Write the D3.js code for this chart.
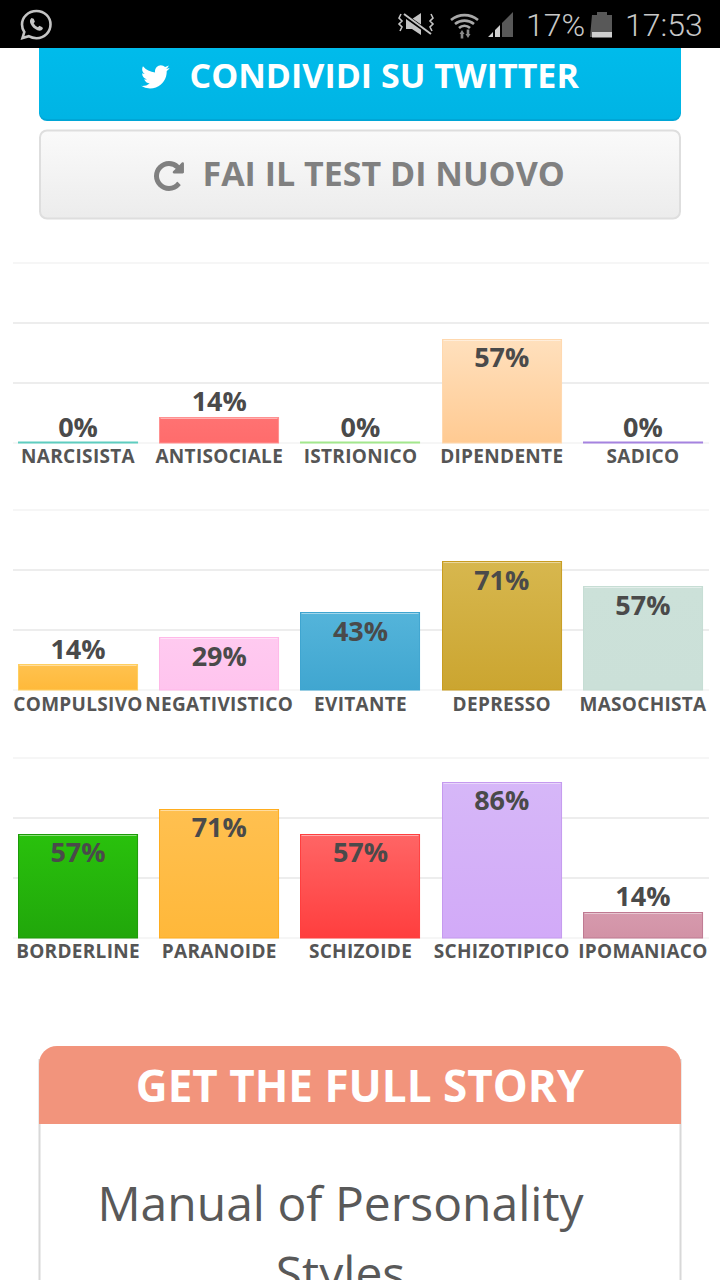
<!DOCTYPE html>
<html><head><meta charset="utf-8">
<script src="https://cdnjs.cloudflare.com/ajax/libs/d3/7.8.5/d3.min.js"></script>
<style>html,body{margin:0;padding:0;background:#fff;overflow:hidden}svg{display:block;font-family:"Open Sans",sans-serif}</style>
</head><body><svg id="c" width="720" height="1280" viewBox="0 0 720 1280"></svg>
<script>
const categoriesA = ["NARCISISTA","ANTISOCIALE","ISTRIONICO","DIPENDENTE","SADICO"];
const valuesA = [0,14,0,57,0];
const categoriesB = ["COMPULSIVO","NEGATIVISTICO","EVITANTE","DEPRESSO","MASOCHISTA"];
const valuesB = [14,29,43,71,57];
const categoriesC = ["BORDERLINE","PARANOIDE","SCHIZOIDE","SCHIZOTIPICO","IPOMANIACO"];
const valuesC = [57,71,57,86,14];
const gridTicks = [0,33.33,66.67,100];
const fillsTopA = ["#7fdcd0","#ff7272","#b5ee9f","#ffe0bd","#b999ea"];
const fillsBotA = ["#7fdcd0","#ff6c6c","#b5ee9f","#ffca92","#b999ea"];
const strokesA = ["#5ecdc0","#ff9090","#a3e88d","#ffd8ae","#a583e0"];
const fillsTopB = ["#ffc24f","#ffcaf0","#54b4da","#d7b74e","#cce1d9"];
const fillsBotB = ["#ffb93a","#ffc4ee","#40a6d0","#cba530","#cbe0d8"];
const strokesB = ["#ffcf60","#ffb8e8","#3fa5d0","#c89c20","#c6ddd4"];
const fillsTopC = ["#29c10c","#ffc050","#ff6565","#d6b7f8","#d69aad"];
const fillsBotC = ["#21a70b","#ffb83a","#ff3e3e","#d2aaf8","#d292a6"];
const strokesC = ["#1c9a08","#ffad1f","#ff3f3f","#c59aef","#bf7a92"];

const svg = d3.select("#c");
const defs = svg.append("defs");
function grad(id, a, b){
  const g = defs.append("linearGradient").attr("id",id).attr("x1",0).attr("y1",0).attr("x2",0).attr("y2",1);
  g.append("stop").attr("offset",0).attr("stop-color",a);
  g.append("stop").attr("offset",1).attr("stop-color",b);
}
grad("tw","#00bcec","#00b4e4");
grad("gr","#fafafa","#ececec");

// ---------- page chrome ----------
const tw = svg.append("g");
tw.append("path").attr("d","M39 40H681V113a8 8 0 0 1-8 8H47a8 8 0 0 1-8-8Z").attr("fill","#00a6d6");
tw.append("path").attr("d","M39 40H681V111a8 8 0 0 1-8 8H47a8 8 0 0 1-8-8Z").attr("fill","url(#tw)");
const twitterD = "M1684 408q-67 98-162 167 1 14 1 42 0 130-38 259.500t-115.500 248.500-184.500 210.500-258 146-323 54.500q-271 0-496-145 35 4 78 4 225 0 401-138-105-2-188-64.500t-114-159.500q33 5 61 5 43 0 85-11-112-23-185.500-111.500t-73.500-205.500v-4q68 38 146 41-66-44-105-115t-39-154q0-88 44-163 121 149 294.500 238.500t371.500 99.500q-8-38-8-74 0-134 94.500-228.500t228.500-94.500q140 0 236 102 109-21 205-78-37 115-142 181 91-10 185-50z";
const redoD = "M1664 256v448q0 26-19 45t-45 19h-448q-42 0-59-40-17-39 14-69l138-138q-148-137-349-137-104 0-198.500 40.500t-163.500 109.500-109.500 163.500-40.500 198.500 40.500 198.500 109.500 163.500 163.500 109.500 198.500 40.500q119 0 225-52t179-147q7-10 23-12 15 0 25 9l137 138q9 8 9.500 20.500t-7.500 22.500q-109 132-264 204.500t-327 72.500q-156 0-298-61t-245-164-164-245-61-298 61-298 164-245 245-164 298-61q147 0 284.500 55.500t244.500 156.500l130-129q29-31 70-14 39 17 39 59z";
tw.append("path").attr("d",twitterD).attr("fill","#fff").attr("transform","translate(139,60.500) scale(0.0182)");
tw.append("text").attr("x",189.500).attr("y",88).attr("font-size",34).attr("font-weight",700).attr("fill","#fff").text("CONDIVIDI SU TWITTER");

svg.append("rect").attr("x",40).attr("y",130.500).attr("width",640).attr("height",88).attr("rx",7).attr("fill","url(#gr)").attr("stroke","#dedede").attr("stroke-width",2);
svg.append("path").attr("d",redoD).attr("fill","#808080").attr("transform","translate(151.500,158.500) scale(0.0195)");
svg.append("text").attr("x",202.500).attr("y",186).attr("font-size",34).attr("font-weight",700).attr("fill","#808080").text("FAI IL TEST DI NUOVO");

// ---------- status bar ----------
svg.append("rect").attr("width",720).attr("height",48).attr("fill","#000");
const sb = svg.append("g").attr("fill","#c4c4c4");
// whatsapp
sb.append("path").attr("d","M36.500 11C28 11 22 17.500 22 24.500c0 2.800.8 5.300 2.300 7.500L22.500 38l6.200-1.800c2.300 1.300 4.800 2 7.800 2C44.500 38.200 50.500 32 50.500 24.500S44.500 11 36.500 11Z").attr("fill","none").attr("stroke","#c4c4c4").attr("stroke-width",2.600);
sb.append("path").attr("d","M31.500 18c-1.800 1.500-2 3.500-.8 6 1.400 2.800 3.700 5 6.700 6.200 2.300 1 4.300.5 5.500-1.500l-.5-1.500-3-1.500-1.500 1.500c-1.800-.7-3.300-2.200-4.200-4l1.200-1.500-1.200-3Z");
// muted vibrate
sb.append("path").attr("d","M406 19h6l9-6v22l-9-6h-6Z").attr("fill","#c4c4c4");
sb.append("path").attr("d","M404 15l28 20").attr("stroke","#000").attr("stroke-width",4);
sb.append("path").attr("d","M404 14l27 20").attr("stroke","#c4c4c4").attr("stroke-width",2);
sb.append("path").attr("d","M401 14l-2 4 3 3-3 3 3 3-2 4M431 14l2 4-3 3 3 3-3 3 2 4").attr("fill","none").attr("stroke","#c4c4c4").attr("stroke-width",1.600);
// wifi
sb.append("path").attr("d","M451 20a21 21 0 0 1 27 0M455 24a15 15 0 0 1 19 0M459 28a8 8 0 0 1 11 0").attr("fill","none").attr("stroke","#a8a8a8").attr("stroke-width",2.600);
sb.append("path").attr("d","M462 30l2.500 4h-1.200v4.500h-2.600V34h-1.200ZM468 38l-2.500-4h1.200v-4.500h2.600V34h1.200Z").attr("fill","#8a8a8a");
// signal
sb.append("path").attr("d","M488 37l5-5v5ZM495 37v-7l5-5v12Z").attr("fill","#d0d0d0");
sb.append("path").attr("d","M502 37V23l11-11v25Z").attr("fill","#585858");
// battery
sb.append("path").attr("d","M592 15h5v-3h10v3h5v22h-22Z").attr("fill","#585858");
sb.append("rect").attr("x",592).attr("y",32).attr("width",20).attr("height",5.500).attr("fill","#cfcfcf");
sb.append("text").attr("x",526).attr("y",36).attr("font-family","Roboto").attr("font-weight",300).attr("font-size",32).attr("fill","#c8c8c8").text("17%");
sb.append("text").attr("x",625).attr("y",36).attr("font-family","Roboto").attr("font-weight",300).attr("font-size",32).attr("fill","#c8c8c8").text("17:53");

// ---------- charts ----------
const y = d3.scaleLinear().domain([0,100]).range([180,0]);
const barTop = v => Math.round(y(v*1.01)-.1);
function panel(baseline, cats, vals, tops, bots, strokes, id, textShift){
  const g = svg.append("g").attr("transform",`translate(0,${baseline-180})`);
  const x = d3.scaleBand().domain(cats).range([18,703]).paddingInner(0.15).paddingOuter(0);
  const bx = c => Math.round(x(c));
  // gridlines
  const ga = g.append("g").attr("transform","translate(13,0)")
    .call(d3.axisLeft(y).offset(0).tickValues(gridTicks).tickSize(-696).tickFormat(""));
  ga.select(".domain").remove();
  ga.selectAll(".tick line").attr("stroke","#ededed")
    .attr("stroke-width",d=>(d===0||d===100)?1:2);
  // bars
  cats.forEach((c,i)=>grad(id+i,tops[i],bots[i]));
  const bars = g.selectAll(".b").data(cats.map((c,i)=>({c,v:vals[i],i}))).join("g");
  bars.append("rect")
    .attr("x",d=>bx(d.c)+.5)
    .attr("width",x.bandwidth()-1)
    .attr("y",d=>Math.min(barTop(d.v),178.5)+.5)
    .attr("height",d=>Math.max(180-barTop(d.v)-.5,1))
    .attr("fill",d=>`url(#${id+d.i})`)
    .attr("stroke",d=>strokes[d.i]);
  bars.filter(d=>d.v>0).append("line")
    .attr("x1",d=>bx(d.c)+1.5)
    .attr("x2",d=>bx(d.c)+x.bandwidth()-1.5)
    .attr("y1",d=>barTop(d.v)+1.5)
    .attr("y2",d=>barTop(d.v)+1.5)
    .attr("stroke","#fff").attr("stroke-opacity",.45);
  // value labels
  bars.append("text")
    .attr("x",d=>x(d.c)+x.bandwidth()/2)
    .attr("y",d=>y(d.v)+(d.v>=29?27:-6.5)+textShift)
    .attr("text-anchor","middle").attr("font-size",27).attr("font-weight",700)
    .attr("fill","#4a4a4a").text(d=>d.v+"%");
  // categories
  const xa = g.append("g").attr("transform",`translate(0,${180+textShift})`)
    .call(d3.axisBottom(x).tickSize(0).tickPadding(6));
  xa.select(".domain").remove();
  xa.selectAll("text").attr("font-family","'Open Sans',sans-serif").attr("font-size",19).attr("letter-spacing",.3).attr("font-weight",700).attr("fill","#555");
}
panel(443,categoriesA,valuesA,fillsTopA,fillsBotA,strokesA,"a",0);
panel(690,categoriesB,valuesB,fillsTopB,fillsBotB,strokesB,"b",1);
panel(938,categoriesC,valuesC,fillsTopC,fillsBotC,strokesC,"c",0);

// ---------- card ----------
svg.append("rect").attr("x",39.500).attr("y",1060).attr("width",641).attr("height",260).attr("fill","#fff").attr("stroke","#d8d8d8").attr("stroke-width",2);
svg.append("path").attr("d","M39 1124V1064a18 18 0 0 1 18-18H663a18 18 0 0 1 18 18V1124Z").attr("fill","#f2947c");
svg.append("text").attr("x",360).attr("y",1102).attr("text-anchor","middle").attr("font-size",44).attr("font-weight",700).attr("fill","#fff").text("GET THE FULL STORY");
svg.append("text").attr("x",340.500).attr("y",1221).attr("text-anchor","middle").attr("font-size",48).attr("fill","#595959").text("Manual of Personality");
svg.append("text").attr("x",340.500).attr("y",1291).attr("text-anchor","middle").attr("font-size",48).attr("fill","#595959").text("Styles");
</script></body></html>
